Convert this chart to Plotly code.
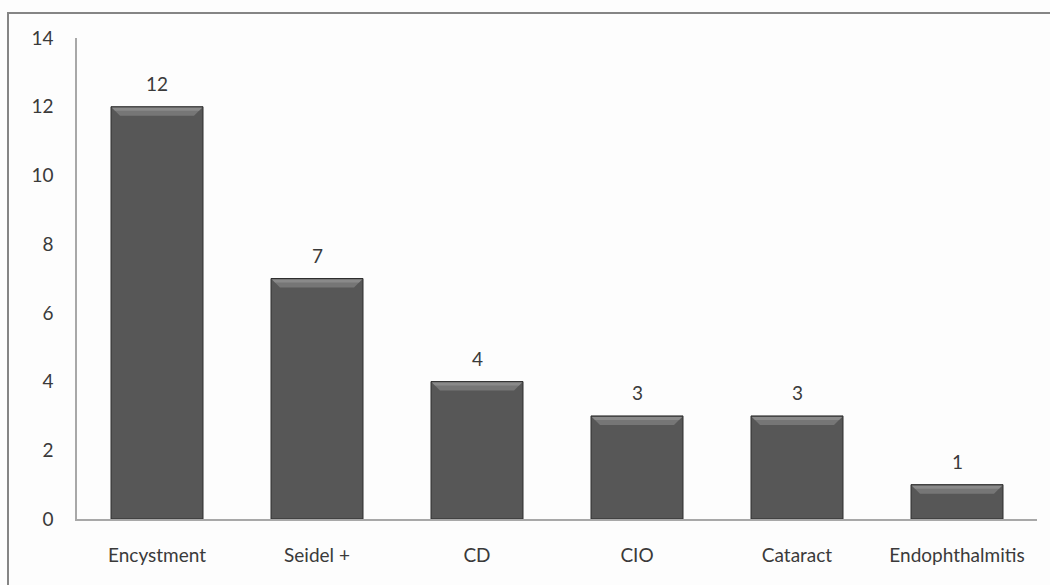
import plotly.graph_objects as go

# Complication counts per category
categories = ["Encystment", "Seidel +", "CD", "CIO", "Cataract", "Endophthalmitis"]
counts = [12, 7, 4, 3, 3, 1]
y_ticks = [0, 2, 4, 6, 8, 10, 12, 14]

FONT = "Lato, 'Open Sans', sans-serif"
TEXT = "#3a3a3a"
FSIZE = 19
BAR_W = 0.575
BAR_PX = 92

fig = go.Figure()

fig.add_trace(go.Bar(
    x=list(range(len(categories))),
    y=counts,
    width=BAR_W,
    marker=dict(color="#575757", line=dict(color="#2e2e2e", width=1)),
    hoverinfo="skip",
))

shapes = []
annotations = []
for i, v in enumerate(counts):
    h = BAR_PX / 2
    # bevelled top edge of the bar
    shapes.append(dict(
        type="path", xref="x", yref="y",
        xsizemode="pixel", ysizemode="pixel", xanchor=i, yanchor=v,
        path=f"M {-h+1},-1 L {h-1},-1 L {h-9},-9 L {-h+9},-9 Z",
        fillcolor="#767676", line=dict(width=0), layer="above",
    ))
    shapes.append(dict(
        type="path", xref="x", yref="y",
        xsizemode="pixel", ysizemode="pixel", xanchor=i, yanchor=v,
        path=f"M {-h+1},-1 L {h-1},-1 L {h-4},-4 L {-h+4},-4 Z",
        fillcolor="#8a8a8a", line=dict(width=0), layer="above",
    ))
    # value label above the bar
    annotations.append(dict(
        x=i, y=v, xref="x", yref="y", text=str(v), showarrow=False,
        yanchor="bottom", yshift=10,
        font=dict(family=FONT, size=FSIZE, color=TEXT),
    ))

# outer frame around the chart
shapes.append(dict(
    type="rect", xref="paper", yref="paper",
    x0=-69 / 960, x1=1.02, y0=-0.2, y1=1 + 25 / 481,
    line=dict(color="#858585", width=2), fillcolor="rgba(0,0,0,0)",
    layer="below",
))

fig.update_layout(
    width=1050, height=585,
    margin=dict(l=77, r=13, t=38, b=66),
    paper_bgcolor="#fdfdfd",
    plot_bgcolor="#fdfdfd",
    showlegend=False,
    bargap=1 - BAR_W,
    shapes=shapes,
    annotations=annotations,
    font=dict(family=FONT, size=FSIZE, color=TEXT),
)

fig.update_xaxes(
    range=[-0.5, len(categories) - 0.5],
    tickmode="array",
    tickvals=list(range(len(categories))),
    ticktext=categories,
    ticks="",
    ticklabelstandoff=18,
    showgrid=False, zeroline=False,
    showline=True, linecolor="#a8a8a8", linewidth=1.5,
    tickfont=dict(family=FONT, size=FSIZE, color=TEXT),
)

fig.update_yaxes(
    range=[0, 14],
    tickmode="array",
    tickvals=y_ticks,
    ticks="",
    ticklabelstandoff=18,
    showgrid=False, zeroline=False,
    showline=True, linecolor="#a8a8a8", linewidth=1.5,
    tickfont=dict(family=FONT, size=FSIZE, color=TEXT),
)

fig.write_html("out.html")
